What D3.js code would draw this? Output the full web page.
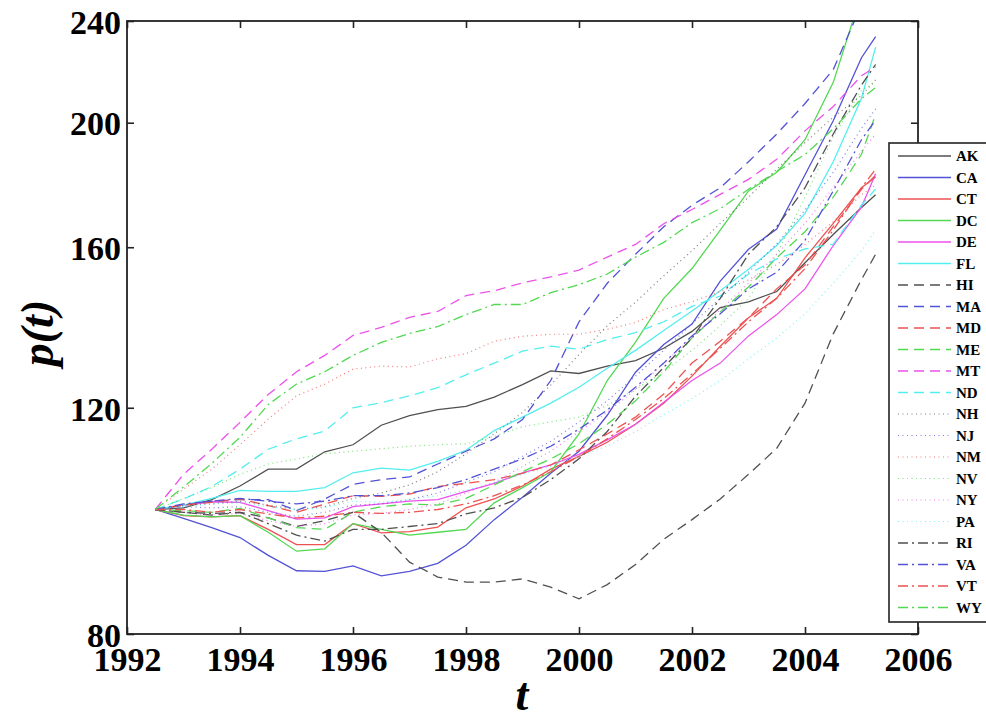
<!DOCTYPE html>
<html>
<head>
<meta charset="utf-8">
<script src="https://cdn.jsdelivr.net/npm/d3@7"></script>
<style>
  body { margin: 0; background: #fff; }
  text { font-family: "Liberation Serif", "Times New Roman", serif; font-weight: bold; fill: #000; }
</style>
</head>
<body>
<div id="chart"></div>
<script>
// quarterly index, read at half-year steps (1992 Q3 = 100)
var times = [1992.5, 1993, 1993.5, 1994, 1994.5, 1995, 1995.5, 1996, 1996.5, 1997, 1997.5, 1998, 1998.5,
             1999, 1999.5, 2000, 2000.5, 2001, 2001.5, 2002, 2002.5, 2003, 2003.5, 2004, 2004.5, 2005, 2005.25];

var AK = [100, 100.3, 101.8, 104.3, 107.5, 107.5, 110.9, 112.3, 116.3, 118.3, 119.6, 120.3, 122.3,
          125.1, 128.2, 127.6, 129.3, 130.6, 133.5, 137.6, 143.6, 145.1, 147.8, 155.6, 163.7, 171.8, 175.8];
var CA = [100, 98.4, 96.8, 95.1, 92.1, 89.6, 89.5, 90.4, 88.8, 89.5, 90.8, 93.8, 98.2,
          102.2, 106.7, 111, 118.4, 127.9, 134.4, 139.4, 150.6, 159.4, 165.3, 182.2, 200.7, 224.7, 233.4];
var CT = [100, 98.9, 98.7, 98.9, 96.5, 93.9, 93.9, 97.5, 95.9, 96.1, 96.9, 100.3, 101.9,
          104.3, 107.5, 110, 112.8, 116.5, 121, 127, 134, 141, 146, 157, 167, 178, 181.5];
var DC = [100, 99, 98.7, 98.9, 96, 92.8, 93.2, 97.5, 96.5, 95.5, 96, 96.5, 101.2,
          104, 107, 114.5, 126, 135, 146, 154, 165, 177, 183, 194, 215, 252, 265];
var DE = [100, 100.8, 101.4, 101.3, 99.8, 98.3, 98.5, 100.5, 101, 101.5, 101.8, 103.3, 104.8,
          106.8, 108.3, 110.4, 113.3, 116.5, 121.2, 126, 130, 136.5, 141.8, 148.5, 160.5, 172, 182.5];
var FL = [100, 100.8, 102, 103.5, 103.3, 103.3, 104, 106.8, 107.7, 107.3, 109, 111.2, 115.2,
          118, 121, 124.5, 128.8, 133, 137.8, 142.7, 148, 153.8, 160.5, 170, 186.5, 209, 229];
var HI = [100, 99.5, 99, 99.5, 98.5, 97, 98, 99.5, 96, 91, 88.6, 87.8, 87.8,
          88.3, 87, 85.2, 87.4, 90.6, 94.8, 98.2, 101.9, 106.5, 111.6, 121, 137, 151, 158];
var MA = [100, 100.8, 101.5, 101.8, 101.8, 99.8, 101.9, 104.6, 105.5, 106, 108.5, 111, 113.5,
          117.5, 126, 140, 150, 158, 166, 172.5, 178, 186.5, 196, 207, 220, 247, 255];
var MD = [100, 100.8, 101.3, 101.9, 100.7, 99.5, 101, 102.5, 102.4, 102.8, 104.2, 104.8, 105.5,
          106.7, 108.3, 111.3, 114.5, 118, 123, 130, 135.2, 141, 148.5, 155, 166, 177.5, 182];
var ME = [100, 99.8, 99.5, 100.2, 98.5, 96.8, 96.5, 99.5, 100.5, 101, 100.8, 102, 104.5,
          107, 109.5, 112.5, 116.5, 121.5, 128, 136, 142.5, 149, 157, 164.5, 175, 189, 203];
var MT = [100, 106.5, 111.4, 116.9, 122.9, 128, 131.8, 136.6, 138.6, 141.1, 142.6, 146.7, 148,
          150.1, 151.7, 153.6, 157.2, 160.8, 166.9, 171.2, 175.9, 180.7, 187.3, 197.1, 205.9, 217.6, 221];
var ND = [100, 101.9, 104.2, 107.5, 111.4, 113.5, 115.1, 120, 121.1, 122.6, 124.4, 127.3, 130,
          132.8, 134, 133.3, 135.6, 137.3, 140, 143.9, 146.6, 152.5, 156.7, 159.5, 160.9, 172.6, 177.6];
var NH = [100, 100.8, 101, 101.5, 100.8, 100, 100.5, 102, 103, 104.5, 107, 110.5, 114.5,
          119, 125, 132, 139, 145, 152, 159, 167, 175, 184, 193, 202, 210, 216];
var NJ = [100, 100.5, 100.3, 100.5, 99.5, 98.8, 99.5, 100.8, 101, 101.8, 103, 105, 107,
          110, 113, 117, 121.5, 127, 133, 139.5, 146, 153, 161, 171, 183, 198, 205];
var NM = [100, 103.7, 107.5, 112.3, 117.6, 122.6, 125.2, 128.6, 129.3, 129.1, 131, 132.2, 135.2,
          136.4, 136.9, 136.9, 138.1, 139.8, 143.1, 145.1, 147.8, 150.9, 155.1, 160.8, 167.5, 175.8, 178.8];
var NV = [100, 102, 104, 106.5, 108.5, 109.5, 110.5, 111, 111.5, 112, 112.3, 112.5, 114,
          116, 117, 118, 120.5, 124, 128, 133, 139, 146, 158, 175, 195, 212, 215];
var NY = [100, 99.5, 99, 99.3, 98, 97, 97.5, 99, 99.3, 100, 101, 103, 105,
          108, 111, 115, 119, 124, 130, 136, 143, 150, 158, 167, 178, 190, 196];
var PA = [100, 100.5, 101, 101.2, 100.5, 100, 100.3, 101.5, 101.3, 101.8, 102.5, 103.5, 105,
          106.5, 108, 110, 112, 115, 118.5, 122, 126, 131, 136, 142, 150, 159, 165];
var RI = [100, 99.5, 99.3, 99.5, 97.5, 95.5, 94.5, 96.5, 96.5, 97, 97.5, 99.2, 100.3,
          102.2, 105.5, 109.5, 115, 122.5, 129, 136, 146, 158, 166, 178, 196, 214, 222];
var VA = [100, 101, 101.5, 102, 101.5, 101, 101.5, 102.5, 102.5, 103, 104, 105.5, 107.5,
          109.5, 112, 115.5, 119.5, 124.5, 130, 136.5, 142, 148.5, 153, 162, 177, 194, 201];
var VT = [100, 100, 99.5, 100, 99.2, 98.5, 98.8, 99.5, 99.3, 99.5, 100, 101, 102.5,
          104.5, 107, 110, 113.5, 117.5, 122, 127.5, 133.5, 140, 146, 154, 165, 178, 184];
var WY = [100, 104.1, 108.6, 113.8, 120.7, 125.2, 128, 131.8, 134.9, 137.1, 138.8, 141.8, 144.4,
          144.4, 147.5, 149.6, 152.5, 157.2, 161.4, 167.2, 171.5, 177.5, 183.3, 188.9, 197.8, 208.8, 213];

var states = ["AK", "CA", "CT", "DC", "DE", "FL", "HI", "MA", "MD", "ME", "MT", "ND",
              "NH", "NJ", "NM", "NV", "NY", "PA", "RI", "VA", "VT", "WY"];
var stateValues = [AK, CA, CT, DC, DE, FL, HI, MA, MD, ME, MT, ND,
                   NH, NJ, NM, NV, NY, PA, RI, VA, VT, WY];

var xTicks = [1992, 1994, 1996, 1998, 2000, 2002, 2004, 2006];
var yTicks = [80, 120, 160, 200, 240];

// matlab-ish colour cycle and line styles
var colors = ["#505050", "#5252d6", "#ee5252", "#52d852", "#ec52ec", "#55eeee"];
var dashes = [null, "10,6", "1,3.5", "10,4,2,4"];

var W = 986, H = 719;
var pl = 127, pr = 918, pt = 21, pb = 634;   // plot box

var svg = d3.select("#chart").append("svg")
    .attr("width", W)
    .attr("height", H);

var x = d3.scaleLinear().domain([1992, 2006]).range([pl, pr]);
var y = d3.scaleLog().domain([80, 240]).range([pb, pt]);

svg.append("clipPath").attr("id", "plotclip")
    .append("rect")
    .attr("x", pl).attr("y", pt)
    .attr("width", pr - pl).attr("height", pb - pt);

var data = states.map(function (s, i) {
    return {
        name: s,
        color: colors[i % 6],
        dash: dashes[Math.floor(i / 6)],
        dotted: Math.floor(i / 6) === 2,
        values: times.map(function (t, j) { return {t: t, v: stateValues[i][j]}; })
    };
});

var line = d3.line()
    .x(function (d) { return x(d.t); })
    .y(function (d) { return y(d.v); });

svg.append("g")
    .attr("clip-path", "url(#plotclip)")
    .selectAll("path")
    .data(data)
    .enter().append("path")
    .attr("d", function (d) { return line(d.values); })
    .attr("fill", "none")
    .attr("stroke", function (d) { return d.color; })
    .attr("stroke-width", function (d) { return d.dotted ? 1.2 : 1.3; })
    .attr("stroke-opacity", function (d) { return d.dotted ? 0.75 : 1; })
    .attr("stroke-dasharray", function (d) { return d.dash; });

// axes, ticks pointing inward
var fs = "34px";

var gx = svg.append("g")
    .attr("transform", "translate(0," + pb + ")")
    .call(d3.axisBottom(x).tickValues(xTicks).tickFormat(d3.format("d"))
        .tickSizeInner(-7).tickSizeOuter(0).tickPadding(13));
gx.selectAll("text").style("font-size", fs);

svg.append("g")
    .attr("transform", "translate(0," + pt + ")")
    .call(d3.axisTop(x).tickValues(xTicks).tickFormat("")
        .tickSizeInner(-7).tickSizeOuter(0));

var gy = svg.append("g")
    .attr("transform", "translate(" + pl + ",0)")
    .call(d3.axisLeft(y).tickValues(yTicks).tickFormat(d3.format("d"))
        .tickSizeInner(-7).tickSizeOuter(0).tickPadding(6));
gy.selectAll("text").style("font-size", fs).attr("dy", "0.36em");

svg.append("g")
    .attr("transform", "translate(" + pr + ",0)")
    .call(d3.axisRight(y).tickValues(yTicks).tickFormat("")
        .tickSizeInner(-7).tickSizeOuter(0));

svg.selectAll(".domain").remove();
svg.selectAll(".tick line").attr("stroke", "#222").attr("stroke-width", 1.6);

svg.append("rect")
    .attr("x", pl).attr("y", pt)
    .attr("width", pr - pl).attr("height", pb - pt)
    .attr("fill", "none")
    .attr("stroke", "#222")
    .attr("stroke-width", 1.8);

// axis titles
svg.append("text")
    .attr("transform", "translate(53,333) rotate(-90)")
    .attr("text-anchor", "middle")
    .style("font-size", "46px")
    .style("font-style", "italic")
    .text("p(t)");

svg.append("text")
    .attr("x", 522)
    .attr("y", 710)
    .attr("text-anchor", "middle")
    .style("font-size", "46px")
    .style("font-style", "italic")
    .text("t");

// legend
var lg = svg.append("g");
lg.append("rect")
    .attr("x", 889).attr("y", 143)
    .attr("width", 120).attr("height", 479)
    .attr("fill", "#fff")
    .attr("stroke", "#222")
    .attr("stroke-width", 1.6);

var rowH = 21.5;
var items = lg.selectAll(".item")
    .data(data)
    .enter().append("g")
    .attr("class", "item")
    .attr("transform", function (d, i) { return "translate(0," + (156 + i * rowH) + ")"; });

items.append("line")
    .attr("x1", 898).attr("x2", 951)
    .attr("stroke", function (d) { return d.color; })
    .attr("stroke-width", function (d) { return d.dotted ? 1.2 : 1.3; })
    .attr("stroke-opacity", function (d) { return d.dotted ? 0.75 : 1; })
    .attr("stroke-dasharray", function (d) { return d.dash; });

items.append("text")
    .attr("x", 956)
    .attr("dy", "0.35em")
    .style("font-size", "15px")
    .text(function (d) { return d.name; });
</script>
</body>
</html>
